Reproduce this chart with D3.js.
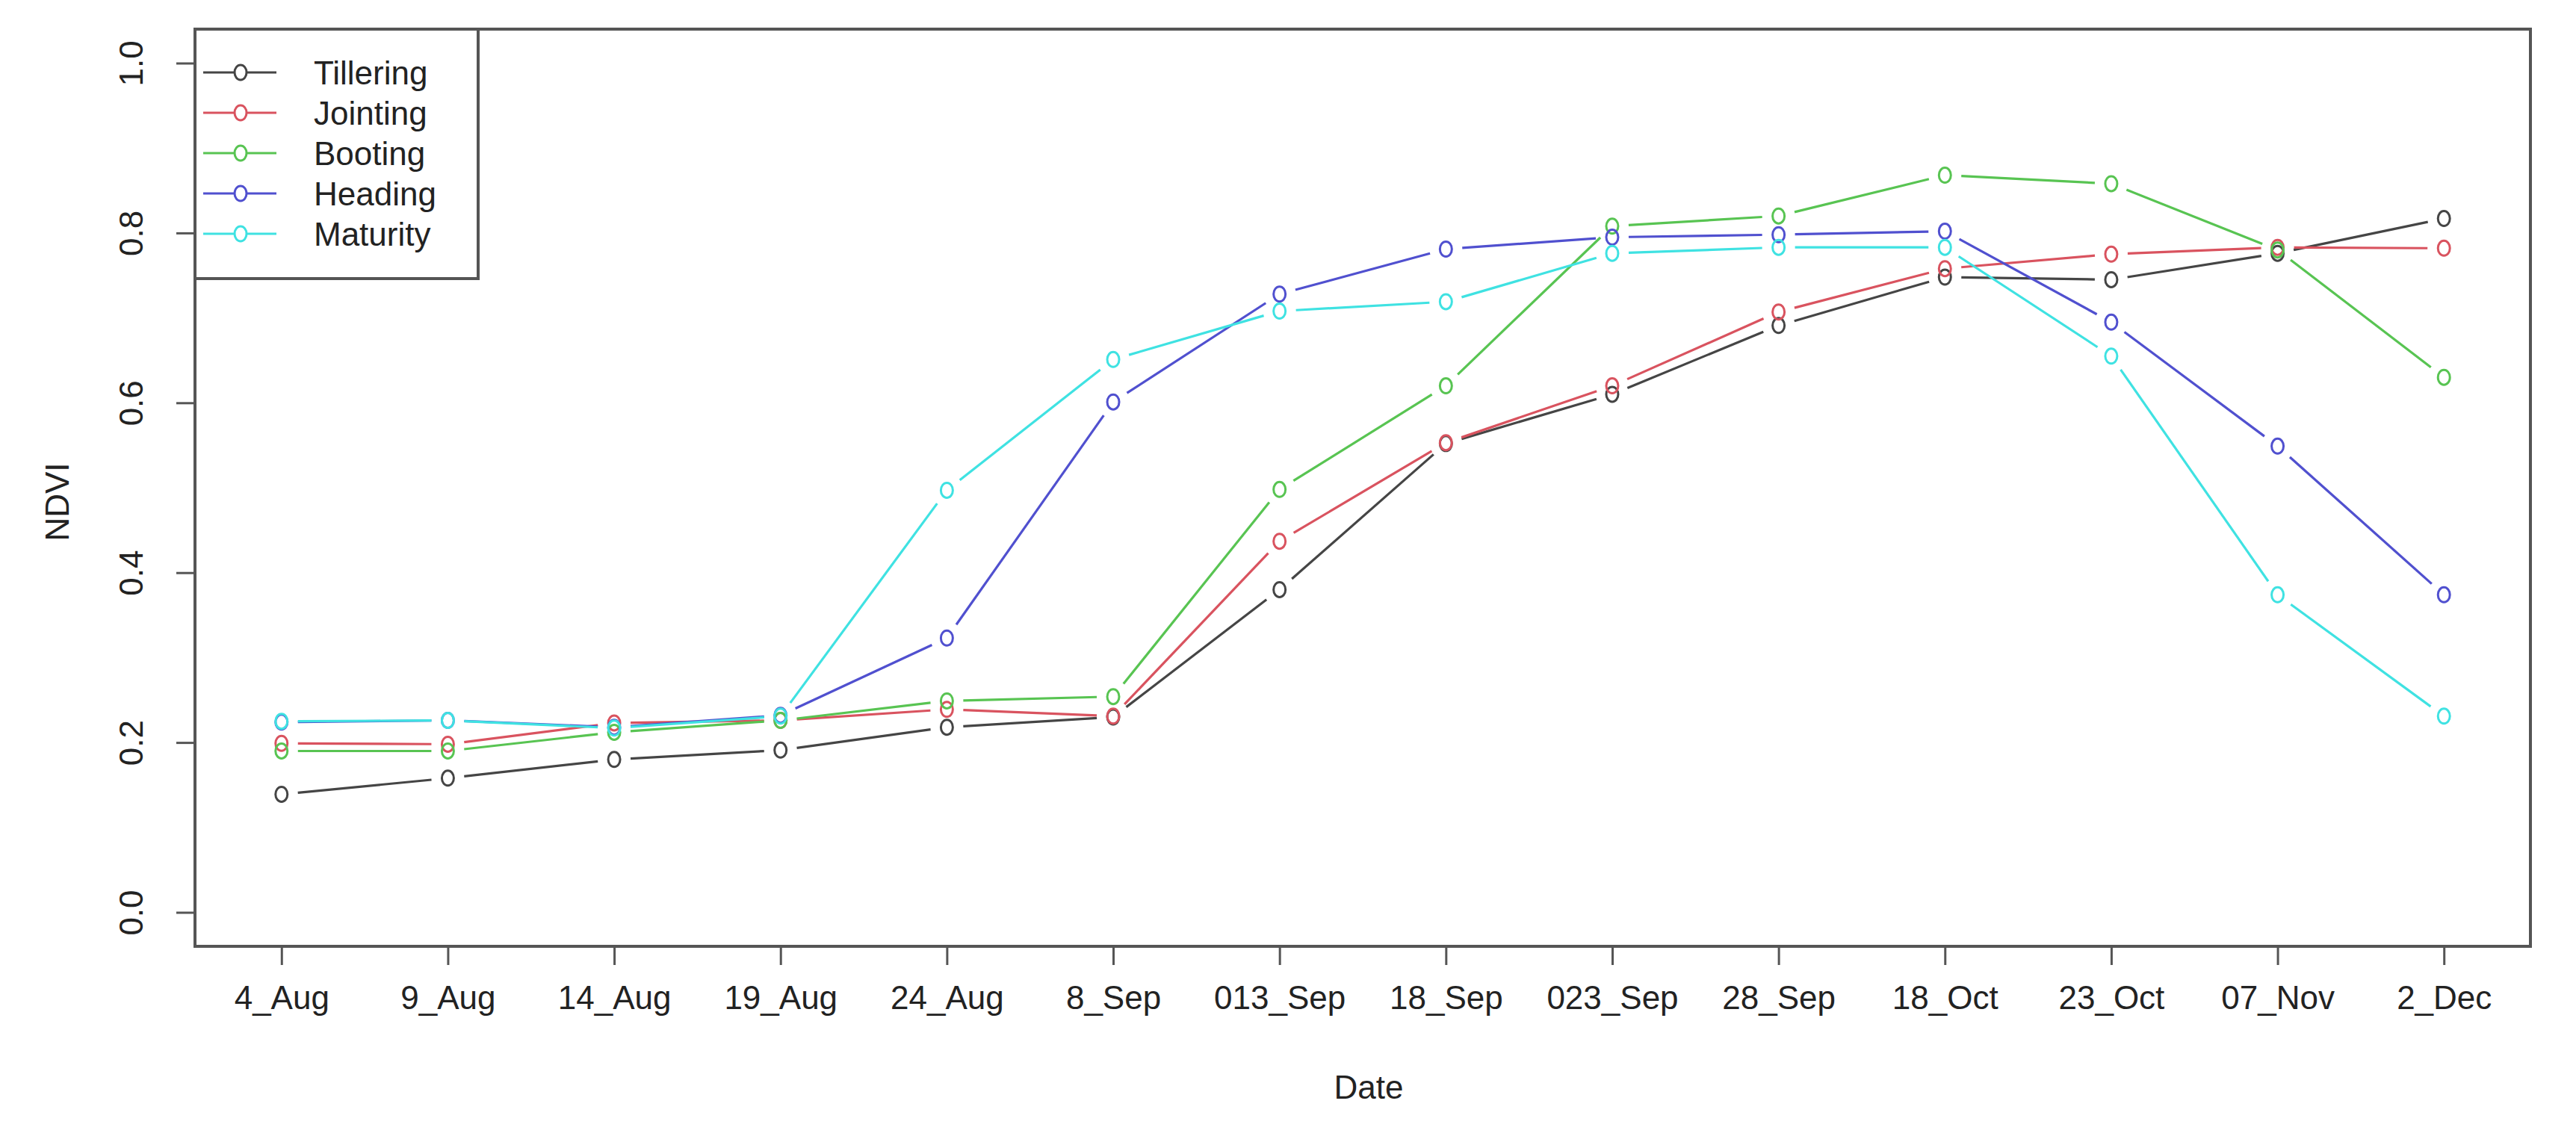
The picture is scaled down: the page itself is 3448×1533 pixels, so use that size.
<!DOCTYPE html>
<html><head><meta charset="utf-8">
<script src="https://cdn.jsdelivr.net/npm/d3@7"></script>
<style>html,body{margin:0;padding:0;background:#fff;}svg{display:block;font-family:"Liberation Sans",Arial,sans-serif;}</style>
</head><body>
<svg id="chart" width="3448" height="1533"></svg>
<script>
const dates = ["4_Aug","9_Aug","14_Aug","19_Aug","24_Aug","8_Sep","013_Sep","18_Sep","023_Sep","28_Sep","18_Oct","23_Oct","07_Nov","2_Dec"];
const seriesNames = ["Tillering","Jointing","Booting","Heading","Maturity"];
const tillering = [0.139,0.158,0.180,0.191,0.218,0.230,0.380,0.552,0.610,0.691,0.748,0.745,0.776,0.817];
const jointing  = [0.199,0.198,0.223,0.226,0.239,0.231,0.437,0.553,0.620,0.707,0.758,0.775,0.783,0.782];
const booting   = [0.190,0.190,0.212,0.226,0.249,0.254,0.498,0.620,0.808,0.820,0.868,0.858,0.780,0.630];
const heading   = [0.224,0.226,0.218,0.232,0.323,0.601,0.728,0.781,0.795,0.798,0.802,0.695,0.549,0.374];
const maturity  = [0.225,0.226,0.217,0.231,0.497,0.651,0.708,0.719,0.776,0.783,0.783,0.655,0.374,0.231];
const yTicks = [0,0.2,0.4,0.6,0.8,1.0];
const colors = ["#454545","#d9535f","#58c452","#5050cf","#3fe2e2"];
const seriesValues = [tillering,jointing,booting,heading,maturity];

const svg = d3.select("#chart");
svg.append("rect").attr("width",3448).attr("height",1533).attr("fill","#fff");
const L=261, R=3387, T=39, B=1267;
const x = d3.scalePoint().domain(dates).range([L,R]).padding(0.52);
const y = d3.scaleLinear().domain([-0.04,1.04]).range([B,T]);
const axisColor="#555", textColor="#222";

// axes
const xa = svg.append("g").attr("transform",`translate(0,${B})`)
  .call(d3.axisBottom(x).tickSize(25).tickPadding(28));
xa.select(".domain").remove();
xa.selectAll("line").attr("stroke",axisColor).attr("stroke-width",3);
xa.selectAll("text").attr("font-size",44).attr("fill",textColor).attr("font-family","Liberation Sans, Arial, sans-serif");

const ya = svg.append("g").attr("transform",`translate(${L},0)`)
  .call(d3.axisLeft(y).tickValues(yTicks).tickFormat(d3.format(".1f")).tickSize(25).tickPadding(0));
ya.select(".domain").remove();
ya.selectAll("line").attr("stroke",axisColor).attr("stroke-width",3);
ya.selectAll("text").attr("font-size",44).attr("fill",textColor)
  .attr("font-family","Liberation Sans, Arial, sans-serif")
  .attr("text-anchor","middle").attr("x",0).attr("dy",0)
  .attr("transform","translate(-70,0) rotate(-90)");

// box
svg.append("rect").attr("x",L).attr("y",T).attr("width",R-L).attr("height",B-T)
  .attr("fill","none").attr("stroke",axisColor).attr("stroke-width",4);

// axis titles
svg.append("text").attr("x",(L+R)/2+8).attr("y",1471).attr("text-anchor","middle")
  .attr("font-size",44).attr("fill",textColor).text("Date");
svg.append("text").attr("transform","translate(92,672) rotate(-90)").attr("text-anchor","middle")
  .attr("font-size",44).attr("fill",textColor).text("NDVI");

// series (type = "b": lines with gaps around points)
const gap = 22;
function drawSeries(g, pts, color){
  for(let i=0;i<pts.length-1;i++){
    const [x1,y1]=pts[i],[x2,y2]=pts[i+1];
    const dx=x2-x1, dy=y2-y1, len=Math.hypot(dx,dy);
    if(len<=2*gap) continue;
    const ux=dx/len, uy=dy/len;
    g.append("line").attr("x1",x1+ux*gap).attr("y1",y1+uy*gap)
      .attr("x2",x2-ux*gap).attr("y2",y2-uy*gap)
      .attr("stroke",color).attr("stroke-width",3.2);
  }
  g.selectAll("ellipse.pt").data(pts).enter().append("ellipse")
    .attr("cx",d=>d[0]).attr("cy",d=>d[1]).attr("rx",8).attr("ry",10)
    .attr("fill","none").attr("stroke",color).attr("stroke-width",3);
}
seriesValues.forEach((vals,si)=>{
  const g = svg.append("g");
  const pts = vals.map((v,i)=>[x(dates[i]), y(v)]);
  drawSeries(g, pts, colors[si]);
});

// legend
const leg = svg.append("g");
leg.append("rect").attr("x",L).attr("y",T).attr("width",379).attr("height",334)
  .attr("fill","#fff").attr("stroke",axisColor).attr("stroke-width",4);
seriesNames.forEach((name,i)=>{
  const yy = 97 + i*54;
  leg.append("line").attr("x1",272).attr("x2",370).attr("y1",yy).attr("y2",yy)
    .attr("stroke",colors[i]).attr("stroke-width",3.2);
  leg.append("ellipse").attr("cx",322).attr("cy",yy).attr("rx",8).attr("ry",10)
    .attr("fill","#fff").attr("stroke",colors[i]).attr("stroke-width",3);
  leg.append("text").attr("x",420).attr("y",yy).attr("dy","0.36em")
    .attr("font-size",44).attr("fill",textColor).text(name);
});
</script>
</body></html>
